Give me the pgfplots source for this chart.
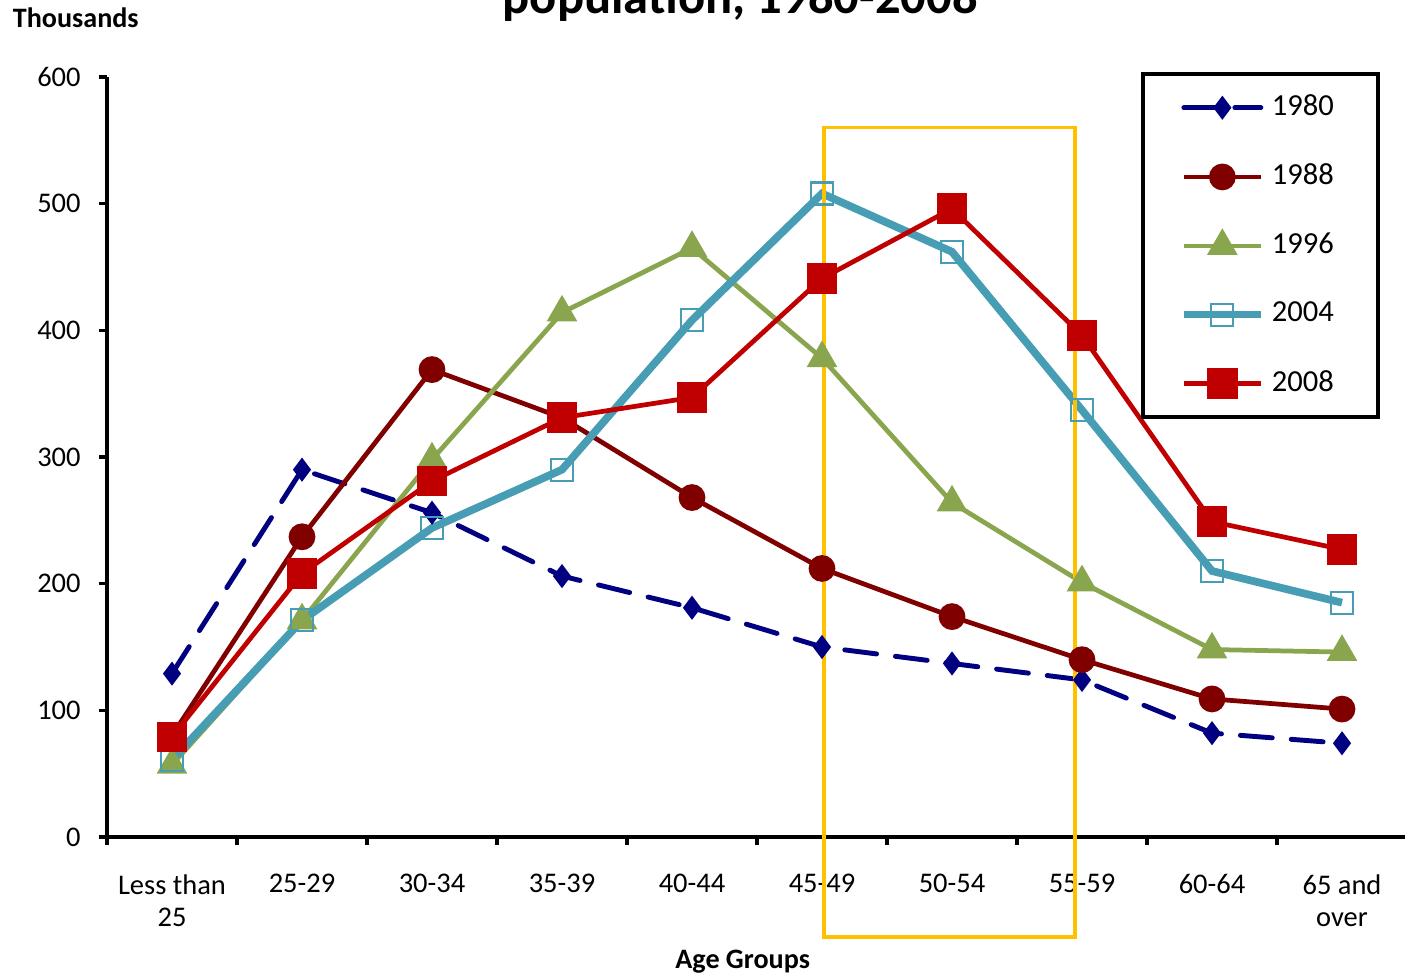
\documentclass[border=0pt]{standalone}
\usepackage{fontspec}
\setmainfont{Carlito}
\usepackage{pgfplots}
\pgfplotsset{compat=1.18}

\definecolor{c80}{RGB}{0,0,128}
\definecolor{c88}{RGB}{128,0,0}
\definecolor{c96}{RGB}{137,166,78}
\definecolor{c04}{RGB}{70,157,180}
\definecolor{c08}{RGB}{192,0,0}
\definecolor{hilite}{RGB}{255,192,0}

\begin{document}
\begin{tikzpicture}[font=\fontsize{8}{9.2}\selectfont]
\begin{axis}[
    scale only axis,
    width=130mm, height=76mm,
    xmin=-0.5, xmax=9.5, ymin=0, ymax=600,
    clip=false,
    axis x line*=bottom, axis y line*=left,
    axis line style={line width=0.9pt, -},
    xtick={-0.5,0.5,...,9.5}, xticklabels={},
    extra x ticks={0,1,2,3,4,5,6,7,8,9},
    extra x tick labels={Less than\\25,25-29,30-34,35-39,40-44,45-49,50-54,55-59,60-64,65 and\\over},
    extra x tick style={major tick length=0pt, tick label style={align=center, yshift=-2.5mm}},
    ytick={0,100,...,600},
    tick align=outside,
    major tick length=0.8mm,
    tick style={black, line width=0.9pt},
    tick label style={font=\fontsize{8.1}{9.3}\selectfont},
    y tick label style={xshift=-0.6mm},
    /pgf/number format/assume math mode=true,
    legend style={at={(0.979,1.007)}, anchor=north east, draw=black, line width=1.1pt,
        inner xsep=3.7mm, inner ysep=1.4mm, row sep=2.9mm,
        font=\fontsize{8.7}{10}\selectfont},
    legend cell align=left,
    legend image code/.code={\draw[mark repeat=2,mark phase=2,#1] plot coordinates {(0mm,0mm) (3.85mm,0mm) (7.7mm,0mm)};},
]
\coordinate (bl) at (rel axis cs:0,0);
\coordinate (tr) at (rel axis cs:1,1);

% 1980
\addplot[c80, line width=1.4pt, line cap=round, dash pattern=on 3.2mm off 1.9mm, mark=diamond*, mark size=0.8mm, mark options={solid}]
  coordinates {(0,129) (1,290) (2,256) (3,206) (4,181) (5,150) (6,137) (7,124) (8,82) (9,74)};
% 1988
\addplot[c88, line width=1.35pt, mark=*, mark size=1.1mm]
  coordinates {(0,80) (1,237) (2,369) (3,331) (4,268) (5,212) (6,174) (7,140) (8,109) (9,101)};
% 1996
\addplot[c96, line width=1.35pt, mark=triangle*, mark size=1.3mm]
  coordinates {(0,57) (1,171) (2,298) (3,414) (4,465) (5,378) (6,264) (7,201) (8,148) (9,146)};
% 2004
\addplot[c04, line width=2.2pt, mark=square, mark size=1.1mm, mark options={fill=white, line width=0.6pt}]
  coordinates {(0,61) (1,171) (2,244) (3,290) (4,408) (5,508) (6,462) (7,337) (8,210) (9,185)};
% 2008
\addplot[c08, line width=1.35pt, mark=square*, mark size=1.3mm]
  coordinates {(0,79) (1,208) (2,281) (3,331) (4,347) (5,441) (6,496) (7,396) (8,249) (9,227)};

\legend{1980,1988,1996,2004,2008}

% highlight box
\draw[hilite, line width=0.9pt] (axis cs:5.015,560) rectangle (axis cs:6.946,-79);

\node[anchor=base, font=\bfseries\fontsize{14.4}{17}\selectfont] at (axis cs:4.37,650) {population, 1980-2008};
\node[anchor=base, font=\bfseries\fontsize{8}{9.2}\selectfont] at (axis cs:-0.74,639) {Thousands};
\node[anchor=base, font=\bfseries\fontsize{8}{9.2}\selectfont] at (axis cs:4.39,-104) {Age Groups};
\end{axis}
\pgfresetboundingbox
\path[use as bounding box] ([xshift=-10.7mm,yshift=-13.8mm]bl) rectangle ([xshift=-0.2mm,yshift=7.7mm]tr);
\end{tikzpicture}
\end{document}
